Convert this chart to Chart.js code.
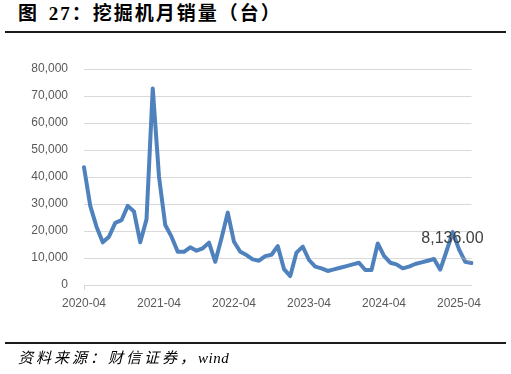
<!DOCTYPE html>
<html>
<head>
<meta charset="UTF-8">
<title>挖掘机月销量</title>
<script src="https://cdn.jsdelivr.net/npm/chart.js@4/dist/chart.umd.min.js"></script>
<style>
    html, body { margin: 0; padding: 0; background: #fff; }
    .page { position: relative; width: 511px; height: 374px; overflow: hidden; }
    .title {
        position: absolute; left: 18px; top: 4px;
        font: bold 19px/20px "Liberation Serif", "Noto Sans CJK SC";
        letter-spacing: 2px; word-spacing: 3px;
        color: #000; white-space: nowrap;
    }
    .rule { position: absolute; left: 5px; width: 501px; height: 2px; background: #1a1a1a; }
    .source {
        position: absolute; left: 18px; top: 350px;
        font: italic 15px/16px "Liberation Serif", "Noto Sans CJK SC";
        letter-spacing: 3px; color: #000; white-space: nowrap;
    }
    #chart { position: absolute; left: 0; top: 0; }
</style>
</head>
<body>
<div class="page">
    <div class="title">图 27：挖掘机月销量（台）</div>
    <div class="rule" style="top:31px"></div>
    <canvas id="chart" width="511" height="374"></canvas>
    <div class="rule" style="top:342px"></div>
    <div class="source">资料来源：财信证券，<span style="letter-spacing:0.5px">wind</span></div>
</div>

<script>
// 月份
const months = [
    '2020-04','2020-05','2020-06','2020-07','2020-08','2020-09','2020-10','2020-11','2020-12',
    '2021-01','2021-02','2021-03','2021-04','2021-05','2021-06','2021-07','2021-08','2021-09','2021-10','2021-11','2021-12',
    '2022-01','2022-02','2022-03','2022-04','2022-05','2022-06','2022-07','2022-08','2022-09','2022-10','2022-11','2022-12',
    '2023-01','2023-02','2023-03','2023-04','2023-05','2023-06','2023-07','2023-08','2023-09','2023-10','2023-11','2023-12',
    '2024-01','2024-02','2024-03','2024-04','2024-05','2024-06','2024-07','2024-08','2024-09','2024-10','2024-11','2024-12',
    '2025-01','2025-02','2025-03','2025-04','2025-05','2025-06'
];

// 挖掘机月销量（台）
const sales = [
    43600, 29300, 21600, 15800, 17900, 23000, 24000, 29300, 27200,
    15800, 24300, 72800, 40100, 22200, 17900, 12300, 12300, 13950, 12700, 13600, 15700,
    8600, 17300, 26800, 16000, 12300, 11100, 9500, 9000, 10700, 11200, 14400, 5900,
    3300, 12000, 14200, 9260, 6800, 6170, 5200, 5800, 6400, 7000, 7650, 8260,
    5550, 5550, 15400, 10800, 8260, 7650, 6170, 6800, 7780, 8400, 9000, 9630,
    5700, 12500, 19600, 13200, 8600, 8136
];

// 坐标轴刻度
const yTicks = [0, 10000, 20000, 30000, 40000, 50000, 60000, 70000, 80000];
const xTickMonth = '-04';
const lastLabel = '8,136.00';

// 最后一个点的数据标签
const lastLabelPlugin = {
    id: 'lastLabel',
    afterDatasetsDraw(chart) {
        const meta = chart.getDatasetMeta(0);
        const pt = meta.data[meta.data.length - 1];
        const ctx = chart.ctx;
        ctx.save();
        ctx.strokeStyle = '#a6a6a6';
        ctx.lineWidth = 1;
        ctx.beginPath();
        ctx.moveTo(pt.x - 11, pt.y - 6);
        ctx.lineTo(pt.x - 1, pt.y - 1);
        ctx.stroke();
        ctx.fillStyle = '#404040';
        ctx.font = '16px "Liberation Sans"';
        ctx.textAlign = 'center';
        ctx.textBaseline = 'middle';
        ctx.fillText(lastLabel, pt.x - 19, pt.y - 24);
        ctx.restore();
    }
};

new Chart(document.getElementById('chart'), {
    type: 'line',
    data: {
        labels: months,
        datasets: [{
            data: sales,
            borderColor: '#4f81bd',
            borderWidth: 4,
            pointRadius: 0,
            tension: 0,
            borderJoinStyle: 'round',
            borderCapStyle: 'round'
        }]
    },
    options: {
        responsive: false,
        animation: false,
        layout: { padding: { left: 0, top: 69, right: 39.5, bottom: 59 } },
        plugins: { legend: { display: false }, tooltip: { enabled: false } },
        scales: {
            x: {
                offset: false,
                afterFit: axis => { axis.height = 30; },
                grid: {
                    drawOnChartArea: false,
                    drawTicks: true,
                    tickLength: 5,
                    color: c => (months[c.index] || '').endsWith(xTickMonth) ? '#d9d9d9' : 'rgba(0,0,0,0)'
                },
                border: { color: '#d9d9d9' },
                ticks: {
                    autoSkip: false,
                    maxRotation: 0,
                    padding: 6,
                    color: '#595959',
                    font: { family: 'Liberation Sans', size: 12 },
                    callback: (v, i) => months[i].endsWith(xTickMonth) ? months[i] : null
                }
            },
            y: {
                min: yTicks[0],
                max: yTicks[yTicks.length - 1],
                afterFit: axis => { axis.width = 84; },
                afterBuildTicks: axis => { axis.ticks = yTicks.map(v => ({ value: v })); },
                grid: { color: '#d9d9d9', drawTicks: false },
                border: { display: false },
                ticks: {
                    padding: 16,
                    color: '#595959',
                    font: { family: 'Liberation Sans', size: 12 },
                    callback: v => v.toLocaleString('en-US')
                }
            }
        }
    },
    plugins: [lastLabelPlugin]
});
</script>
</body>
</html>
